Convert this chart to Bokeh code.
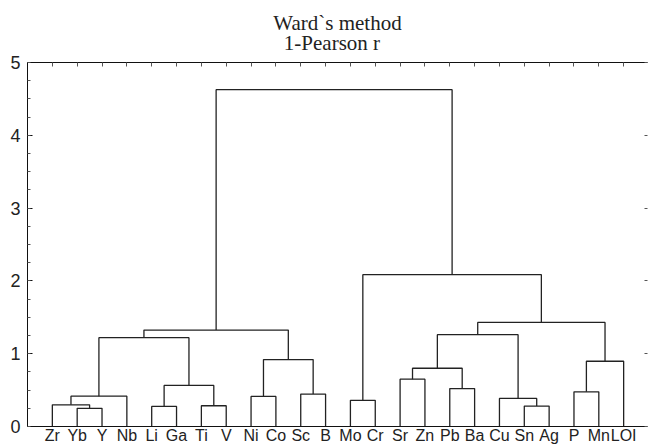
from bokeh.plotting import figure
from bokeh.models import Range1d, LinearAxis, FixedTicker, Title, CustomLabelingPolicy
from bokeh.embed import file_html
from bokeh.resources import INLINE

# Leaves (left to right order of the dendrogram)
leaves = ["Zr", "Yb", "Y", "Nb", "Li", "Ga", "Ti", "V", "Ni", "Co", "Sc", "B",
          "Mo", "Cr", "Sr", "Zn", "Pb", "Ba", "Cu", "Sn", "Ag", "P", "Mn", "LOI"]

# Linkage steps: left member, right member, linkage distance (1 - Pearson r)
merge_left = ["Yb", "Zr", "c1", "Li", "Ti", "c3", "c2", "Ni", "Sc", "c7", "c6",
              "Mo", "Sr", "Pb", "c12", "Sn", "Cu", "c14", "P", "c18", "c17", "c11", "c10"]
merge_right = ["Y", "c0", "Nb", "Ga", "V", "c4", "c5", "Co", "B", "c8", "c9",
               "Cr", "Zn", "Ba", "c13", "Ag", "c15", "c16", "Mn", "LOI", "c19", "c20", "c21"]
merge_height = [0.249, 0.298, 0.417, 0.276, 0.285, 0.564, 1.220, 0.413, 0.445, 0.919, 1.324,
                0.359, 0.650, 0.521, 0.800, 0.280, 0.386, 1.261, 0.476, 0.896, 1.430, 2.086, 4.627]

y_ticks = [0, 1, 2, 3, 4, 5]
y_minor = [i * 0.25 for i in range(21)]

title_lines = ["Ward`s method", "\u00a0\u00a01-Pearson r"]

pos = {name: i + 1 for i, name in enumerate(leaves)}
hgt = {name: 0.0 for name in leaves}
xs, ys = [], []
for k, (a, b, h) in enumerate(zip(merge_left, merge_right, merge_height)):
    xa, xb = pos[a], pos[b]
    ha, hb = hgt[a], hgt[b]
    xs.append([xa, xa, xb, xb])
    ys.append([ha, h, h, hb])
    pos["c%d" % k] = (xa + xb) / 2.0
    hgt["c%d" % k] = h

leaf_pos = list(range(1, len(leaves) + 1))

p = figure(width=651, height=446,
           x_range=Range1d(0, 24.96), y_range=Range1d(0, 5),
           output_backend="svg", toolbar_location=None, title=None,
           x_axis_location=None, y_axis_location=None,
           min_border_left=27, min_border_right=0, min_border_top=62, min_border_bottom=0)
p.grid.visible = False
p.outline_line_color = None
p.background_fill_color = "white"
p.border_fill_color = "white"

p.multi_line(xs, ys, line_color="#222222", line_width=1.3)

# left axis
la = LinearAxis(ticker=FixedTicker(ticks=y_ticks, minor_ticks=y_minor),
                major_tick_in=5, major_tick_out=0, minor_tick_in=3, minor_tick_out=0,
                major_label_standoff=7, major_label_text_font="Liberation Sans",
                major_label_text_font_size="18px", major_label_text_color="#222222",
                axis_line_color="#111111", major_tick_line_color="#111111",
                minor_tick_line_color="#555555")
p.add_layout(la, "left")

# bottom axis with leaf labels
ba = LinearAxis(ticker=FixedTicker(ticks=leaf_pos),
                major_tick_in=0, major_tick_out=0, minor_tick_in=0, minor_tick_out=0,
                major_label_standoff=0, major_label_text_font="Liberation Sans",
                major_label_text_font_size="16px", major_label_text_color="#222222",
                axis_line_color="#111111",
                major_label_overrides={i: n for i, n in zip(leaf_pos, leaves)})
p.add_layout(ba, "below")

# top axis (ticks only)
ta = LinearAxis(ticker=FixedTicker(ticks=leaf_pos),
                major_tick_in=4, major_tick_out=0, minor_tick_in=0, minor_tick_out=0,
                major_label_standoff=0, major_label_text_font_size="1px",
                major_label_policy=CustomLabelingPolicy(code="return new Set()"),
                axis_line_color="#111111", major_tick_line_color="#555555")
p.add_layout(ta, "above")

# right axis (ticks only)
ra = LinearAxis(ticker=FixedTicker(ticks=y_ticks),
                major_tick_in=3, major_tick_out=0, minor_tick_in=0, minor_tick_out=0,
                major_label_standoff=0, major_label_text_font_size="1px",
                major_label_policy=CustomLabelingPolicy(code="return new Set()"),
                axis_line_color=None, major_tick_line_color="#555555")
p.add_layout(ra, "right")

p.add_layout(Title(text="\n".join(title_lines), align="center", offset=4, standoff=6,
                   text_font="Liberation Serif", text_font_size="21px",
                   text_line_height=0.87,
                   text_font_style="normal", text_color="#222222"), "above")

open("out.html", "w").write(file_html(p, INLINE))
